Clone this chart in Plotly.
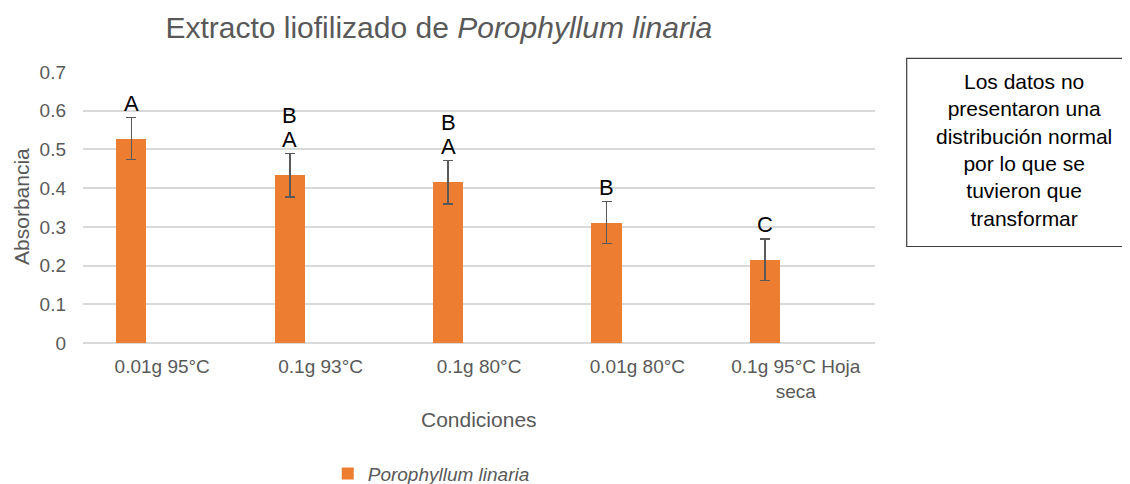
import plotly.graph_objects as go

# data
condiciones = ["0.01g 95°C", "0.1g 93°C", "0.1g 80°C", "0.01g 80°C", "0.1g 95°C Hoja<br>seca"]
absorbancia = [0.528, 0.433, 0.415, 0.311, 0.215]
error = [0.054, 0.056, 0.056, 0.054, 0.054]
letras = ["A", "B<br>A", "B<br>A", "B", "C"]

FONT = "Liberation Sans, Arial, sans-serif"
GRAY = "#595959"
pos = list(range(len(condiciones)))

fig = go.Figure()
fig.add_trace(go.Bar(
    x=pos, y=absorbancia,
    name="<i>Porophyllum linaria</i>",
    marker=dict(color="#ED7D31", line=dict(width=0)),
    offset=-0.29, width=0.19,
    error_y=dict(type="data", array=error, visible=True,
                 color=GRAY, thickness=1.6, width=5),
))

# letters above the error bars (stacked lines, tighter than plotly's <br>)
for i in pos:
    lines = letras[i].split("<br>")[::-1]
    for k, t in enumerate(lines):
        fig.add_annotation(x=i - 0.195, y=absorbancia[i] + error[i], xref="x", yref="y",
                           text=t, showarrow=False, xanchor="center", yanchor="bottom",
                           yshift=k * 24,
                           font=dict(family=FONT, size=22, color="black"))

# axis titles
fig.add_annotation(x=-0.077, y=0.502, xref="paper", yref="paper", text="Absorbancia",
                   textangle=-90, showarrow=False, xanchor="center", yanchor="middle",
                   font=dict(family=FONT, size=21, color=GRAY))
fig.add_annotation(x=0.5, y=-0.284, xref="paper", yref="paper", text="Condiciones",
                   showarrow=False, xanchor="center", yanchor="middle",
                   font=dict(family=FONT, size=21, color=GRAY))

# side note box
fig.add_shape(type="rect", xref="paper", yref="paper",
              x0=1.040, x1=1.34, y0=0.356, y1=1.050,
              line=dict(color="#404040", width=1.2), fillcolor="white")
fig.add_annotation(x=1.188, y=0.712, xref="paper", yref="paper",
                   text="Los datos no<br>presentaron una<br>distribución normal<br>por lo que se<br>tuvieron que<br>transformar",
                   showarrow=False, align="center", xanchor="center", yanchor="middle",
                   font=dict(family=FONT, size=21, color="black"))

fig.update_layout(
    width=1122, height=476,
    margin=dict(l=75, r=255, t=64, b=141, autoexpand=False),
    paper_bgcolor="white", plot_bgcolor="white",
    title=dict(text="Extracto liofilizado de <i>Porophyllum linaria</i>",
               x=0.384, xanchor="center", y=0.96, yanchor="middle",
               font=dict(family=FONT, size=30, color=GRAY)),
    xaxis=dict(tickvals=pos, ticktext=condiciones, range=[-0.5, 4.5],
               showgrid=False, showline=False, ticks="", zeroline=False, automargin=False,
               ticklabelstandoff=10,
               tickfont=dict(family=FONT, size=19, color=GRAY)),
    yaxis=dict(range=[0, 0.7], dtick=0.1, tickformat="~g", automargin=False,
               showgrid=True, gridcolor="#D9D9D9", gridwidth=1.6,
               zeroline=True, zerolinecolor="#D9D9D9", zerolinewidth=1.6,
               showline=False, ticks="", ticklabelstandoff=16,
               tickfont=dict(family=FONT, size=19, color=GRAY)),
    showlegend=True,
    legend=dict(orientation="h", x=0.309, xanchor="left", y=-0.482, yanchor="middle",
                font=dict(family=FONT, size=19, color=GRAY)),
    bargap=0,
)

fig.write_html("out.html")
